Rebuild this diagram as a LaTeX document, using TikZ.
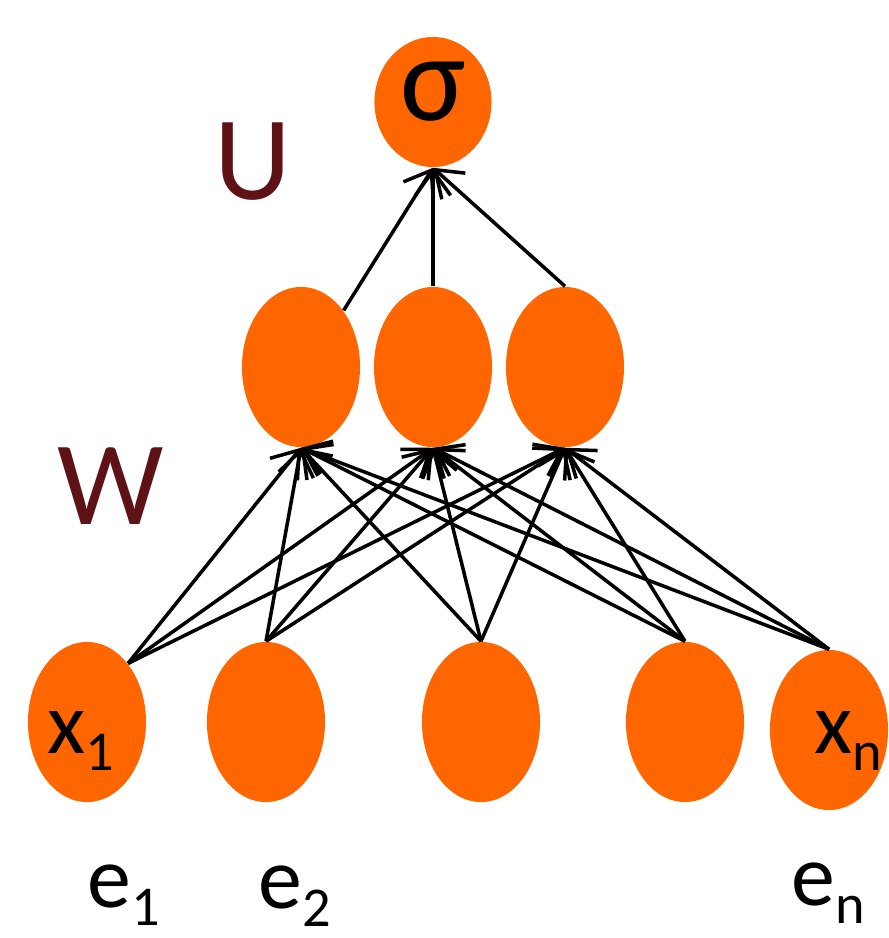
\documentclass[tikz,border=0pt]{standalone}
\usepackage{fontspec}
\setmainfont{Carlito}
\usetikzlibrary{shapes.geometric, arrows.meta}
\definecolor{nodeorange}{HTML}{FF6600}
\definecolor{labelred}{HTML}{5E1216}
\newcommand{\lowsub}[1]{\raisebox{-5pt}{\fontsize{16}{16}\selectfont #1}}

\begin{document}
\begin{tikzpicture}[
    x=0.01cm, y=-0.01cm,
    neuron/.style={ellipse, fill=nodeorange, inner sep=0pt, minimum width=1.18cm, minimum height=1.6cm},
    wire/.style={black, line width=1pt, -{Straight Barb[length=7pt, width=10pt]}},
    weightlabel/.style={text=labelred, font=\fontsize{34}{34}\selectfont},
    varlabel/.style={font=\fontsize{25}{25}\selectfont, inner sep=0pt},
]

\useasboundingbox (0,0) rectangle (889,938);

% --- Output ---
\node[neuron, minimum width=1.17cm, minimum height=1.3cm, font=\fontsize{35}{35}\selectfont, text depth=6pt]
      (sig) at (433,102) {σ};

% --- Hidden layer ---
\node[neuron] (h1) at (301,367) {};
\node[neuron] (h2) at (433,367) {};
\node[neuron] (h3) at (565,367) {};

% --- Inputs ---
\node[neuron] (in1) at (87,722) {};
\node[neuron] (in2) at (266,722) {};
\node[neuron] (in3) at (481,722) {};
\node[neuron] (in4) at (685,722) {};
\node[neuron] (in5) at (829,730) {};

\node[varlabel] (x1) at (81,741) {x\lowsub{1}};
\node[varlabel] (xn) at (848,741) {x\lowsub{n}};

% Weight labels
\node[weightlabel] (ulab) at (253,162) {U};
\node[weightlabel] (wlab) at (111,486) {W};

% Embedding labels
\node[varlabel] (e1) at (124,895) {e\lowsub{1}};
\node[varlabel] (e2) at (295,896) {e\lowsub{2}};
\node[varlabel] (en) at (828,893) {e\lowsub{n}};

% --- Arrows: inputs to hidden ---
\draw[wire] (in1.55) -- (h1.south);
\draw[wire] (in1.55) -- (h2.south);
\draw[wire] (in1.55) -- (h3.south);

\draw[wire] (in2.north) -- (h1.south);
\draw[wire] (in2.north) -- (h2.south);
\draw[wire] (in2.north) -- (h3.south);

\draw[wire] (in3.north) -- (h1.south);
\draw[wire] (in3.north) -- (h2.south);
\draw[wire] (in3.north) -- (h3.south);

\draw[wire] (in4.north) -- (h1.south);
\draw[wire] (in4.north) -- (h2.south);
\draw[wire] (in4.north) -- (h3.south);

\draw[wire] (in5.north) -- (h1.south);
\draw[wire] (in5.north) -- (h2.south);
\draw[wire] (in5.north) -- (h3.south);

% --- Arrows: hidden to output ---
\draw[wire] (h1.53) -- (sig.south);
\draw[wire] (h2.north) -- (sig.south);
\draw[wire] (h3.north) -- (sig.south);

\end{tikzpicture}
\end{document}
